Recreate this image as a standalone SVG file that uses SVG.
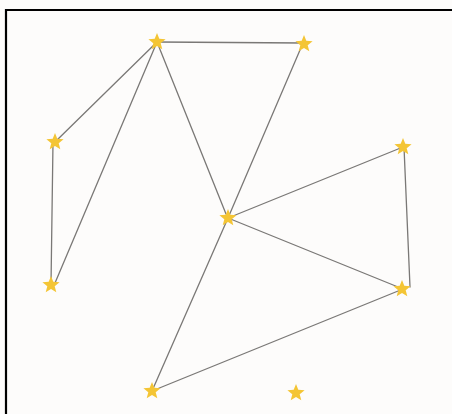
<svg xmlns="http://www.w3.org/2000/svg" width="452" height="414" viewBox="0 0 452 414">
<defs>
<style>
.ln{stroke:#7a7876;stroke-width:1.3;fill:none;stroke-linecap:round}
.st{fill:#f4c535}
</style>
<path id="star" d="M0,-9 L2.3,-3.2 L8.6,-2.8 L3.7,1.2 L5.3,7.3 L0,3.9 L-5.3,7.3 L-3.7,1.2 L-8.6,-2.8 L-2.3,-3.2 Z"/>
</defs>
<rect x="0" y="0" width="452" height="414" fill="#fdfcfb"/>
<path d="M6,414 V10 H452" stroke="#000" stroke-width="2.2" fill="none"/>
<g id="connectors" class="ln">
<line x1="157" y1="42" x2="303" y2="43"/>
<line x1="157" y1="42" x2="55" y2="142"/>
<line x1="157" y1="42" x2="55" y2="283"/>
<line x1="53" y1="142" x2="51" y2="285"/>
<line x1="157" y1="42" x2="226" y2="214"/>
<line x1="303" y1="43" x2="228" y2="218"/>
<line x1="228" y1="218" x2="403" y2="147"/>
<line x1="404" y1="147" x2="410" y2="287"/>
<line x1="228" y1="218" x2="403" y2="289"/>
<line x1="228" y1="218" x2="152" y2="391"/>
<line x1="152" y1="391" x2="403" y2="289"/>
</g>
<g id="star-a"><use href="#star" class="st" x="157" y="42"/></g>
<g id="star-b"><use href="#star" class="st" x="304" y="44"/></g>
<g id="star-c"><use href="#star" class="st" x="55" y="142"/></g>
<g id="star-d"><use href="#star" class="st" x="403" y="147"/></g>
<g id="star-e"><use href="#star" class="st" x="228" y="218"/></g>
<g id="star-f"><use href="#star" class="st" x="51" y="285"/></g>
<g id="star-g"><use href="#star" class="st" x="402" y="289"/></g>
<g id="star-h"><use href="#star" class="st" x="152" y="391"/></g>
<g id="star-i"><use href="#star" class="st" x="296" y="393"/></g>
</svg>
